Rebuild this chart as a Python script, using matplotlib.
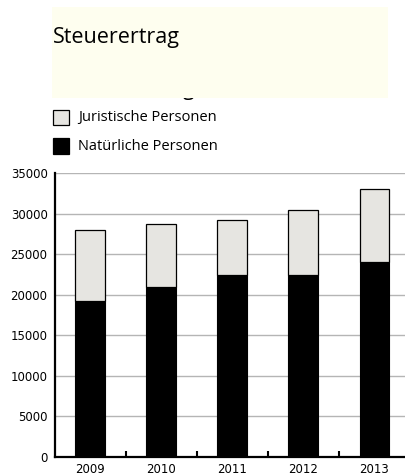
import matplotlib
matplotlib.use("Agg")
import matplotlib.pyplot as plt
from matplotlib.patches import Rectangle
import numpy as np

years = ["2009", "2010", "2011", "2012", "2013"]
natuerliche = [19300, 21000, 22500, 22500, 24000]
juristische = [8700, 7700, 6800, 8000, 9100]
y_ticks = [0, 5000, 10000, 15000, 20000, 25000, 30000, 35000]
title = "Steuerertrag"
legend_labels = ["Juristische Personen", "Natürliche Personen"]

W, H = 405, 474
fig = plt.figure(figsize=(W / 100, H / 100), dpi=100)

def fx(px):
    return px / W

def fy(py):
    return 1 - py / H

# title box (a hidden title line peeks out below it)
fig.text(fx(183), fy(94.8), "g", fontsize=15, family="Open Sans", color="black",
         va="baseline", zorder=1)
fig.patches.append(Rectangle((fx(51.7), fy(97.7)), fx(387.7) - fx(51.7), fy(7.3) - fy(97.7),
                             transform=fig.transFigure, facecolor="#fefeef", edgecolor="none", zorder=2))
fig.text(fx(53), fy(42.5), title, fontsize=15.5, family="Open Sans", color="black",
         va="baseline", ha="left", zorder=3)

# legend
leg_colors = ["#e6e5e1", "black"]
leg_y = [117.5, 146]
for lab, col, yc in zip(legend_labels, leg_colors, leg_y):
    fig.patches.append(Rectangle((fx(53.5), fy(yc + 7.5)), fx(15), 15 / H,
                                 transform=fig.transFigure, facecolor=col,
                                 edgecolor="black", linewidth=0.9, zorder=3))
    fig.text(fx(78), fy(yc), lab, fontsize=10.5, family="Open Sans", color="black",
             va="center", ha="left", zorder=3)

# axes
ax_left, ax_right = 54.5, 410
ax_top, ax_bottom = 173.3, 457
ax = fig.add_axes([fx(ax_left), fy(ax_bottom), fx(ax_right - ax_left), (ax_bottom - ax_top) / H])
x = np.arange(len(years))
bw = 0.42
ax.bar(x, natuerliche, width=bw, color="black", edgecolor="black", linewidth=0.8, zorder=3)
ax.bar(x, juristische, width=bw, bottom=natuerliche, color="#e6e5e1",
       edgecolor="black", linewidth=0.9, zorder=3)

ax.set_xlim(-0.5, len(years) - 0.5)
ax.set_ylim(0, 35000)
ax.set_yticks(y_ticks)
ax.set_yticklabels([str(v) for v in y_ticks], fontsize=8.5, family="DejaVu Sans")
ax.tick_params(axis="y", length=0, pad=5)
ax.yaxis.grid(True, color="#b5b5b5", linewidth=1.0, zorder=0)
ax.set_axisbelow(True)

ax.set_xticks(x + 0.5)
ax.set_xticklabels([])
ax.set_xticks(x, minor=True)
ax.set_xticklabels(years, minor=True, fontsize=8.5, family="DejaVu Sans")
ax.tick_params(axis="x", which="major", direction="in", length=4, width=1.5, color="black")
ax.tick_params(axis="x", which="minor", length=0, pad=4)

for s in ["top", "right"]:
    ax.spines[s].set_visible(False)
for s in ["left", "bottom"]:
    ax.spines[s].set_linewidth(1.6)
    ax.spines[s].set_color("black")
ax.set_facecolor("white")

fig.savefig("out.png", dpi=100)
